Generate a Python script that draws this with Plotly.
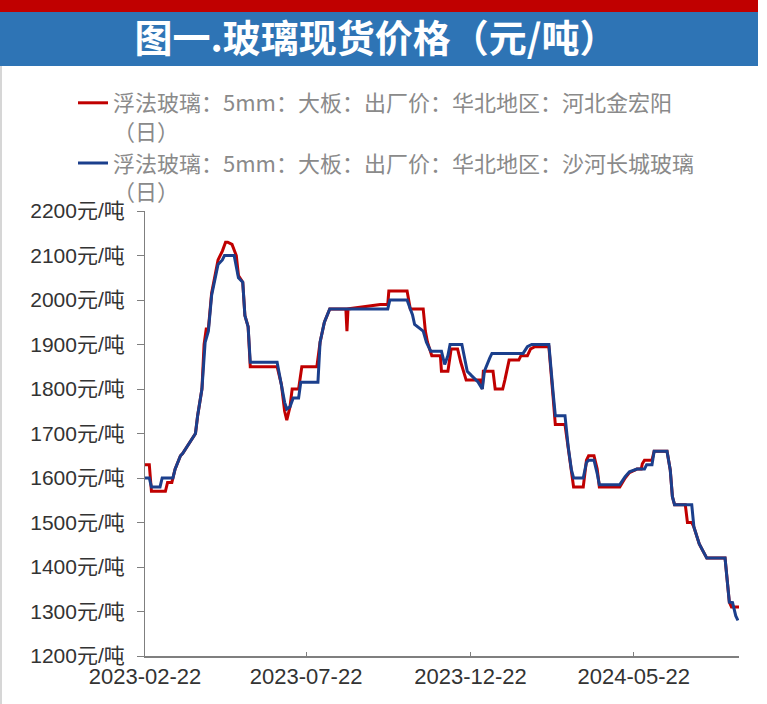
import plotly.graph_objects as go

# ---- data ----
red_name = "浮法玻璃：5mm：大板：出厂价：华北地区：河北金宏阳<br>（日）"
red_dates = [
    "2023-02-22", "2023-02-26", "2023-02-28", "2023-03-13", "2023-03-15", "2023-03-19",
    "2023-03-22", "2023-03-27", "2023-03-29", "2023-04-05", "2023-04-10", "2023-04-12",
    "2023-04-16", "2023-04-18", "2023-04-20", "2023-04-22", "2023-04-25", "2023-05-01",
    "2023-05-05", "2023-05-08", "2023-05-10", "2023-05-14", "2023-05-18", "2023-05-20",
    "2023-05-24", "2023-05-26", "2023-05-29", "2023-05-31", "2023-06-25", "2023-06-29",
    "2023-07-02", "2023-07-04", "2023-07-07", "2023-07-09", "2023-07-15", "2023-07-18",
    "2023-08-01", "2023-08-04", "2023-08-08", "2023-08-13", "2023-08-28", "2023-08-29",
    "2023-08-30", "2023-09-29", "2023-10-06", "2023-10-07", "2023-10-24", "2023-10-27",
    "2023-11-08", "2023-11-10", "2023-11-12", "2023-11-16", "2023-11-24", "2023-11-25",
    "2023-12-01", "2023-12-04", "2023-12-10", "2023-12-13", "2023-12-18", "2023-12-31",
    "2024-01-02", "2024-01-03", "2024-01-12", "2024-01-14", "2024-01-21", "2024-01-23",
    "2024-01-27", "2024-02-05", "2024-02-07", "2024-02-13", "2024-02-16", "2024-02-20",
    "2024-03-04", "2024-03-08", "2024-03-10", "2024-03-19", "2024-03-22", "2024-03-25",
    "2024-03-27", "2024-04-05", "2024-04-08", "2024-04-10", "2024-04-15", "2024-04-18",
    "2024-04-20", "2024-05-09", "2024-05-14", "2024-05-18", "2024-05-25", "2024-05-29",
    "2024-05-30", "2024-06-01", "2024-06-08", "2024-06-10", "2024-06-22", "2024-06-25",
    "2024-06-27", "2024-06-29", "2024-07-09", "2024-07-11", "2024-07-15", "2024-07-17",
    "2024-07-22", "2024-07-25", "2024-07-29", "2024-08-15", "2024-08-17", "2024-08-19",
    "2024-08-21", "2024-08-28",
]
red_values = [
    1630, 1630, 1570, 1570, 1590, 1590,
    1620, 1650, 1655, 1680, 1700, 1740,
    1800, 1900, 1935, 1935, 2015, 2090,
    2110, 2130, 2130, 2125, 2100, 2055,
    2040, 1965, 1940, 1850, 1850, 1810,
    1750, 1730, 1760, 1800, 1800, 1850,
    1850, 1905, 1950, 1980, 1980, 1930,
    1980, 1990, 1990, 2020, 2020, 1980,
    1980, 1930, 1905, 1875, 1875, 1840,
    1840, 1890, 1890, 1860, 1820, 1820,
    1800, 1840, 1840, 1800, 1800, 1820,
    1865, 1865, 1875, 1875, 1890, 1895,
    1895, 1780, 1720, 1720, 1670, 1618,
    1580, 1580, 1640, 1650, 1650, 1620,
    1580, 1580, 1600, 1612, 1620, 1620,
    1632, 1640, 1640, 1660, 1660, 1618,
    1558, 1540, 1540, 1500, 1500, 1490,
    1452, 1438, 1420, 1420, 1378, 1321,
    1310, 1310,
]

blue_name = "浮法玻璃：5mm：大板：出厂价：华北地区：沙河长城玻璃<br>（日）"
blue_dates = [
    "2023-02-22", "2023-02-26", "2023-02-28", "2023-03-08", "2023-03-10", "2023-03-20",
    "2023-03-22", "2023-03-27", "2023-03-29", "2023-04-05", "2023-04-10", "2023-04-12",
    "2023-04-16", "2023-04-19", "2023-04-22", "2023-04-25", "2023-05-01", "2023-05-05",
    "2023-05-07", "2023-05-16", "2023-05-20", "2023-05-24", "2023-05-26", "2023-05-29",
    "2023-05-31", "2023-06-25", "2023-06-29", "2023-07-02", "2023-07-04", "2023-07-07",
    "2023-07-10", "2023-07-15", "2023-07-17", "2023-08-02", "2023-08-04", "2023-08-08",
    "2023-08-13", "2023-10-06", "2023-10-08", "2023-10-24", "2023-10-27", "2023-10-29",
    "2023-10-31", "2023-11-08", "2023-11-11", "2023-11-15", "2023-11-25", "2023-11-28",
    "2023-12-01", "2023-12-03", "2023-12-14", "2023-12-17", "2023-12-19", "2023-12-23",
    "2023-12-29", "2024-01-02", "2024-01-04", "2024-01-09", "2024-01-11", "2024-02-09",
    "2024-02-13", "2024-02-17", "2024-03-04", "2024-03-08", "2024-03-10", "2024-03-19",
    "2024-03-22", "2024-03-25", "2024-03-27", "2024-04-05", "2024-04-08", "2024-04-10",
    "2024-04-15", "2024-04-18", "2024-04-20", "2024-05-09", "2024-05-14", "2024-05-18",
    "2024-05-25", "2024-06-01", "2024-06-03", "2024-06-08", "2024-06-10", "2024-06-22",
    "2024-06-25", "2024-06-27", "2024-06-29", "2024-07-15", "2024-07-17", "2024-07-22",
    "2024-07-25", "2024-07-29", "2024-08-15", "2024-08-17", "2024-08-19", "2024-08-22",
    "2024-08-25", "2024-08-27",
]
blue_values = [
    1600, 1600, 1580, 1580, 1600, 1600,
    1620, 1650, 1655, 1680, 1700, 1740,
    1800, 1905, 1930, 2010, 2080, 2090,
    2100, 2100, 2050, 2040, 1965, 1940,
    1860, 1860, 1810, 1770, 1755, 1760,
    1780, 1780, 1815, 1815, 1905, 1950,
    1980, 1980, 2000, 2000, 1980, 1967,
    1945, 1930, 1905, 1885, 1885, 1855,
    1875, 1900, 1900, 1860, 1840, 1830,
    1816, 1800, 1840, 1870, 1880, 1880,
    1895, 1900, 1900, 1790, 1740, 1740,
    1670, 1618, 1600, 1600, 1635, 1640,
    1640, 1610, 1585, 1585, 1603, 1614,
    1620, 1620, 1630, 1630, 1660, 1660,
    1618, 1558, 1540, 1540, 1490, 1452,
    1438, 1420, 1420, 1378, 1321, 1320,
    1290, 1280,
]

x_tick_vals = ["2023-02-22", "2023-07-22", "2023-12-22", "2024-05-22"]
x_tick_text = ["2023-02-22", "2023-07-22", "2023-12-22", "2024-05-22"]
y_tick_vals = [1200, 1300, 1400, 1500, 1600, 1700, 1800, 1900, 2000, 2100, 2200]
y_tick_text = [f"{v}元/吨" for v in y_tick_vals]

title_text = "图一.玻璃现货价格（元/吨）"

# ---- layout geometry (pixels) ----
W, H = 767, 704
ML, MR, MT, MB = 145, 28, 211, 48
PW, PH = W - ML - MR, H - MT - MB


def px(xp):
    return (xp - ML) / PW


def py(yp):
    return (H - MB - yp) / PH


RED = "#C00000"
BLUE = "#1B3F8C"
CJK = "Liberation Sans, Noto Sans CJK SC, sans-serif"

fig = go.Figure()
fig.add_trace(go.Scatter(x=red_dates, y=red_values, mode="lines", name=red_name,
                         line=dict(color=RED, width=3)))
fig.add_trace(go.Scatter(x=blue_dates, y=blue_values, mode="lines", name=blue_name,
                         line=dict(color=BLUE, width=3)))

shapes = [
    # blue title band
    dict(type="rect", xref="paper", yref="paper", x0=px(0), x1=px(758), y0=py(66), y1=py(12),
         fillcolor="#2E74B5", line=dict(width=0), layer="below"),
    # red top band
    dict(type="rect", xref="paper", yref="paper", x0=px(0), x1=px(758), y0=py(12), y1=py(0),
         fillcolor="#C00000", line=dict(width=0), layer="below"),
    # left frame line
    dict(type="line", xref="paper", yref="paper", x0=px(1), x1=px(1), y0=py(704), y1=py(66),
         line=dict(color="#C8C8C8", width=1.5), layer="below"),
]

fig.update_layout(
    width=W, height=H,
    margin=dict(l=ML, r=MR, t=MT, b=MB, autoexpand=False),
    paper_bgcolor="white", plot_bgcolor="white",
    title=dict(text=title_text, x=376 / W, xanchor="center", y=1 - 39 / H, yanchor="middle",
               font=dict(family="Noto Sans CJK SC, sans-serif", size=38, color="white", weight="bold")),
    shapes=shapes,
    showlegend=True,
    legend=dict(x=px(73), xanchor="left", y=py(82), yanchor="top",
                font=dict(family="Noto Sans CJK SC, sans-serif", size=22, color="#8A8A8A"),
                valign="top", tracegroupgap=0, bgcolor="rgba(0,0,0,0)"),
    xaxis=dict(type="date", range=["2023-02-22", "2024-08-28"],
               tickmode="array", tickvals=x_tick_vals, ticktext=x_tick_text,
               showgrid=False, zeroline=False, showline=True, linecolor="#7F7F7F", linewidth=1.5,
               ticks="inside", ticklen=4, tickcolor="#7F7F7F",
               tickfont=dict(family=CJK, size=22, color="#333333")),
    yaxis=dict(range=[1200, 2200], tickmode="array", tickvals=y_tick_vals, ticktext=y_tick_text,
               showgrid=False, zeroline=False, showline=True, linecolor="#7F7F7F", linewidth=1,
               ticks="outside", ticklen=7, tickcolor="#7F7F7F", ticklabelstandoff=8,
               tickfont=dict(family=CJK, size=21, color="#333333")),
)

fig.write_html("out.html", config={"displayModeBar": False},
               post_script="document.body.style.margin='0';")
